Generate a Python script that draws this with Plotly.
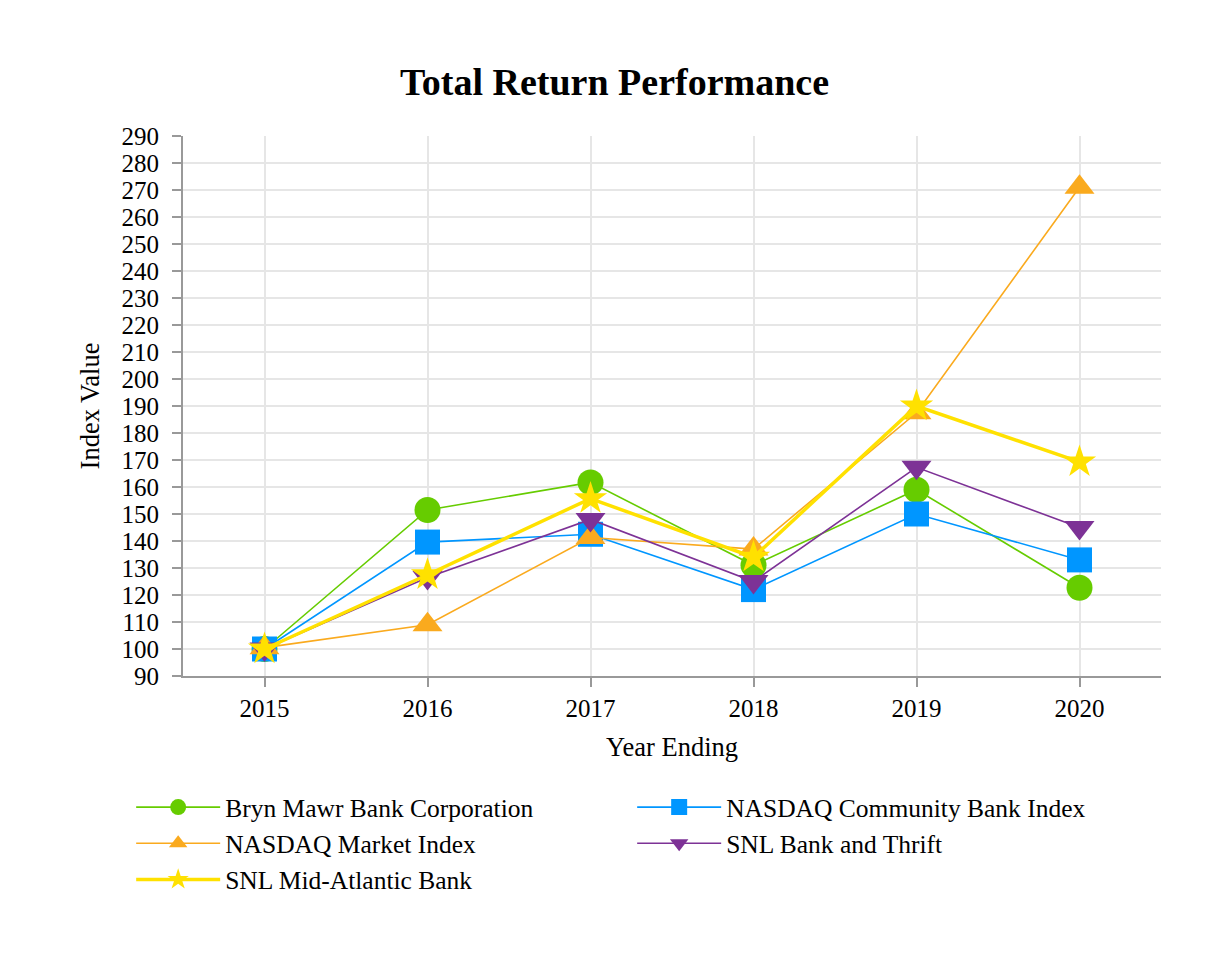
import plotly.graph_objects as go

years = ["2015", "2016", "2017", "2018", "2019", "2020"]
bryn_mawr = [100, 151.5, 161.7, 131, 159, 122.7]
nasdaq_community = [100, 139.6, 142.5, 122, 150, 133]
nasdaq_market = [100.5, 109, 141.3, 137, 187.5, 271]
snl_bank_thrift = [100, 126.5, 148, 125, 167.3, 145]
snl_mid_atlantic = [100, 127.5, 155.7, 134, 190, 169.3]

series = [
    ("Bryn Mawr Bank Corporation", bryn_mawr, "#66CC00", "circle", 1.6, 26),
    ("NASDAQ Community Bank Index", nasdaq_community, "#0096FF", "square", 1.6, 25),
    ("NASDAQ Market Index", nasdaq_market, "#FAAA1E", "triangle-up", 1.6, 26),
    ("SNL Bank and Thrift", snl_bank_thrift, "#7D3296", "triangle-down", 1.6, 26),
    ("SNL Mid-Atlantic Bank", snl_mid_atlantic, "#FFE100", "star", 3.5, 25),
]

fig = go.Figure()
for name, vals, color, sym, lw, ms in series:
    fig.add_trace(go.Scatter(
        x=years, y=vals, name=name, mode="lines+markers",
        line=dict(color=color, width=lw),
        marker=dict(symbol=sym, size=ms, color=color, line=dict(width=0)),
    ))

font_family = "Liberation Serif, Times New Roman, serif"
fig.update_layout(
    width=1226, height=960,
    paper_bgcolor="white", plot_bgcolor="white",
    font=dict(family=font_family, color="black", size=25),
    title=dict(text="<b>Total Return Performance</b>", xref="container", x=606.5 / 1226,
               xanchor="center", yref="container", y=1 - 74 / 960, yanchor="middle",
               font=dict(size=38, family=font_family)),
    margin=dict(l=175, r=73, t=128, b=292, autoexpand=False),
    showlegend=True,
    legend=dict(orientation="h", x=-0.053, xanchor="left", y=-0.200, yanchor="top",
                entrywidth=402, entrywidthmode="pixels", itemwidth=84,
                font=dict(size=25.5, family=font_family), tracegroupgap=0,
                bgcolor="rgba(0,0,0,0)"),
)
fig.update_xaxes(
    type="category", range=[-0.5, 5.5],
    showgrid=True, gridcolor="#e6e6e6", gridwidth=1.5,
    showline=True, linecolor="#999999", linewidth=2,
    ticks="outside", ticklen=9, tickcolor="#999999", tickwidth=1.5,
    tickfont=dict(size=25), title=dict(text="Year Ending", font=dict(size=26.5), standoff=16),
    zeroline=False,
)
fig.update_yaxes(
    range=[90, 290], dtick=10, tick0=90,
    showgrid=True, gridcolor="#e6e6e6", gridwidth=1.5,
    showline=True, linecolor="#999999", linewidth=2,
    ticks="outside", ticklen=9, tickcolor="#999999", tickwidth=1.5, ticklabelstandoff=8,
    tickfont=dict(size=25), title=dict(text="Index Value", font=dict(size=26.5), standoff=14),
    zeroline=False,
)

fig.write_html("out.html")
